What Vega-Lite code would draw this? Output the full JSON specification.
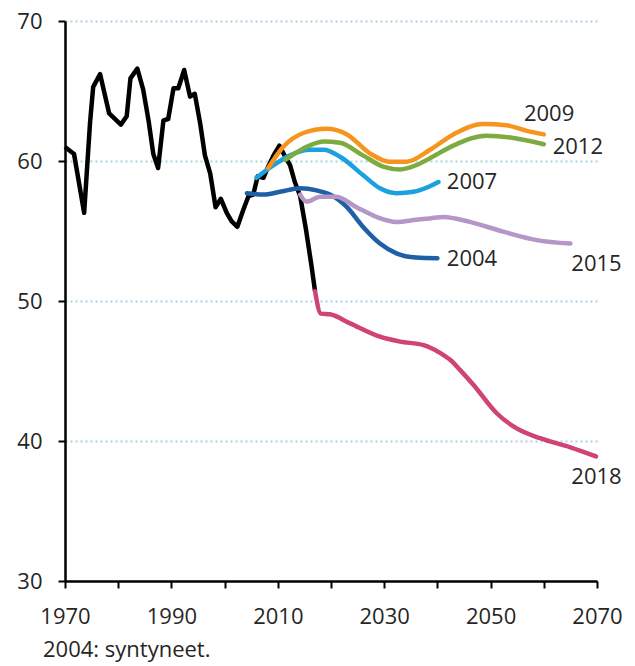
{
  "$schema": "https://vega.github.io/schema/vega-lite/v6.json",
  "autosize": "none",
  "width": 532,
  "height": 560,
  "padding": {"left": 65, "top": 21, "right": 38, "bottom": 85},
  "background": "white",
  "title": {
    "text": "2004: syntyneet.",
    "orient": "bottom",
    "anchor": "start",
    "frame": "group",
    "dx": -22,
    "offset": 13,
    "font": "Open Sans",
    "fontSize": 22,
    "fontWeight": "normal",
    "color": "#262626"
  },
  "datasets": {
    "lines": [
      {"series": "hist", "year": 1970.0, "value": 61.0},
      {"series": "hist", "year": 1971.7, "value": 60.5},
      {"series": "hist", "year": 1973.6, "value": 56.3},
      {"series": "hist", "year": 1974.7, "value": 62.7},
      {"series": "hist", "year": 1975.3, "value": 65.3},
      {"series": "hist", "year": 1976.6, "value": 66.2},
      {"series": "hist", "year": 1978.3, "value": 63.4},
      {"series": "hist", "year": 1980.5, "value": 62.6},
      {"series": "hist", "year": 1981.6, "value": 63.2},
      {"series": "hist", "year": 1982.3, "value": 65.9},
      {"series": "hist", "year": 1983.6, "value": 66.6},
      {"series": "hist", "year": 1984.7, "value": 65.1},
      {"series": "hist", "year": 1985.7, "value": 62.9},
      {"series": "hist", "year": 1986.6, "value": 60.5},
      {"series": "hist", "year": 1987.5, "value": 59.5},
      {"series": "hist", "year": 1988.5, "value": 62.9},
      {"series": "hist", "year": 1989.4, "value": 63.0},
      {"series": "hist", "year": 1990.4, "value": 65.2},
      {"series": "hist", "year": 1991.3, "value": 65.2},
      {"series": "hist", "year": 1992.4, "value": 66.5},
      {"series": "hist", "year": 1993.5, "value": 64.6},
      {"series": "hist", "year": 1994.4, "value": 64.8},
      {"series": "hist", "year": 1995.4, "value": 62.7},
      {"series": "hist", "year": 1996.3, "value": 60.4},
      {"series": "hist", "year": 1997.3, "value": 59.1},
      {"series": "hist", "year": 1998.3, "value": 56.7},
      {"series": "hist", "year": 1999.3, "value": 57.3},
      {"series": "hist", "year": 2000.4, "value": 56.3},
      {"series": "hist", "year": 2001.3, "value": 55.7},
      {"series": "hist", "year": 2002.4, "value": 55.3},
      {"series": "hist", "year": 2003.5, "value": 56.5},
      {"series": "hist", "year": 2004.5, "value": 57.5},
      {"series": "hist", "year": 2005.4, "value": 57.6},
      {"series": "hist", "year": 2006.2, "value": 58.9},
      {"series": "hist", "year": 2007.3, "value": 58.8},
      {"series": "hist", "year": 2008.2, "value": 59.6},
      {"series": "hist", "year": 2009.2, "value": 60.4},
      {"series": "hist", "year": 2010.3, "value": 61.1},
      {"series": "hist", "year": 2011.4, "value": 60.3},
      {"series": "hist", "year": 2012.3, "value": 59.7},
      {"series": "hist", "year": 2013.2, "value": 58.5},
      {"series": "hist", "year": 2014.2, "value": 57.5},
      {"series": "hist", "year": 2015.3, "value": 55.1},
      {"series": "hist", "year": 2016.3, "value": 52.6},
      {"series": "hist", "year": 2017.0, "value": 50.7},

      {"series": "2004", "year": 2004.2, "value": 57.7},
      {"series": "2004", "year": 2007.3, "value": 57.6},
      {"series": "2004", "year": 2010.4, "value": 57.8},
      {"series": "2004", "year": 2014.2, "value": 58.05},
      {"series": "2004", "year": 2017.3, "value": 57.9},
      {"series": "2004", "year": 2019.8, "value": 57.6},
      {"series": "2004", "year": 2023.0, "value": 56.7},
      {"series": "2004", "year": 2026.0, "value": 55.3},
      {"series": "2004", "year": 2029.2, "value": 54.1},
      {"series": "2004", "year": 2032.3, "value": 53.4},
      {"series": "2004", "year": 2036.0, "value": 53.1},
      {"series": "2004", "year": 2040.0, "value": 53.05},

      {"series": "2007", "year": 2006.0, "value": 58.8},
      {"series": "2007", "year": 2009.2, "value": 59.7},
      {"series": "2007", "year": 2012.3, "value": 60.4},
      {"series": "2007", "year": 2016.0, "value": 60.8},
      {"series": "2007", "year": 2018.6, "value": 60.8},
      {"series": "2007", "year": 2021.7, "value": 60.3},
      {"series": "2007", "year": 2026.0, "value": 59.0},
      {"series": "2007", "year": 2029.2, "value": 58.05},
      {"series": "2007", "year": 2032.3, "value": 57.7},
      {"series": "2007", "year": 2035.5, "value": 57.8},
      {"series": "2007", "year": 2038.6, "value": 58.2},
      {"series": "2007", "year": 2040.2, "value": 58.5},

      {"series": "2009", "year": 2008.2, "value": 59.5},
      {"series": "2009", "year": 2011.0, "value": 61.0},
      {"series": "2009", "year": 2014.8, "value": 62.0},
      {"series": "2009", "year": 2019.2, "value": 62.3},
      {"series": "2009", "year": 2023.0, "value": 61.9},
      {"series": "2009", "year": 2027.3, "value": 60.55},
      {"series": "2009", "year": 2031.0, "value": 59.95},
      {"series": "2009", "year": 2034.2, "value": 59.95},
      {"series": "2009", "year": 2038.6, "value": 60.8},
      {"series": "2009", "year": 2043.0, "value": 61.9},
      {"series": "2009", "year": 2048.6, "value": 62.65},
      {"series": "2009", "year": 2053.0, "value": 62.55},
      {"series": "2009", "year": 2056.8, "value": 62.15},
      {"series": "2009", "year": 2060.0, "value": 61.9},

      {"series": "2012", "year": 2011.4, "value": 60.07},
      {"series": "2012", "year": 2014.8, "value": 60.9},
      {"series": "2012", "year": 2018.6, "value": 61.4},
      {"series": "2012", "year": 2021.7, "value": 61.3},
      {"series": "2012", "year": 2026.0, "value": 60.4},
      {"series": "2012", "year": 2029.8, "value": 59.6},
      {"series": "2012", "year": 2033.0, "value": 59.4},
      {"series": "2012", "year": 2036.0, "value": 59.7},
      {"series": "2012", "year": 2038.6, "value": 60.2},
      {"series": "2012", "year": 2043.0, "value": 61.1},
      {"series": "2012", "year": 2049.2, "value": 61.8},
      {"series": "2012", "year": 2054.3, "value": 61.65},
      {"series": "2012", "year": 2060.0, "value": 61.2},

      {"series": "2015", "year": 2014.2, "value": 57.6},
      {"series": "2015", "year": 2015.4, "value": 57.1},
      {"series": "2015", "year": 2018.0, "value": 57.45},
      {"series": "2015", "year": 2021.0, "value": 57.45},
      {"series": "2015", "year": 2024.8, "value": 56.7},
      {"series": "2015", "year": 2028.6, "value": 56.0},
      {"series": "2015", "year": 2032.3, "value": 55.65},
      {"series": "2015", "year": 2036.0, "value": 55.8},
      {"series": "2015", "year": 2038.6, "value": 55.9},
      {"series": "2015", "year": 2041.1, "value": 56.0},
      {"series": "2015", "year": 2046.1, "value": 55.65},
      {"series": "2015", "year": 2052.4, "value": 54.95},
      {"series": "2015", "year": 2058.7, "value": 54.35},
      {"series": "2015", "year": 2065.0, "value": 54.1},

      {"series": "2018", "year": 2017.0, "value": 50.7},
      {"series": "2018", "year": 2018.1, "value": 49.1},
      {"series": "2018", "year": 2019.8, "value": 49.05},
      {"series": "2018", "year": 2023.6, "value": 48.4},
      {"series": "2018", "year": 2029.2, "value": 47.45},
      {"series": "2018", "year": 2033.0, "value": 47.1},
      {"series": "2018", "year": 2037.4, "value": 46.85},
      {"series": "2018", "year": 2040.5, "value": 46.3},
      {"series": "2018", "year": 2042.4, "value": 45.8},
      {"series": "2018", "year": 2044.2, "value": 45.1},
      {"series": "2018", "year": 2046.8, "value": 44.0},
      {"series": "2018", "year": 2051.1, "value": 42.0},
      {"series": "2018", "year": 2054.9, "value": 40.9},
      {"series": "2018", "year": 2059.3, "value": 40.2},
      {"series": "2018", "year": 2065.0, "value": 39.55},
      {"series": "2018", "year": 2069.8, "value": 38.9}
    ],
    "labels": [
      {"series": "2009", "year": 2061.0, "value": 63.36},
      {"series": "2012", "year": 2066.4, "value": 61.02},
      {"series": "2007", "year": 2046.5, "value": 58.5},
      {"series": "2004", "year": 2046.5, "value": 53.02},
      {"series": "2015", "year": 2069.9, "value": 52.66},
      {"series": "2018", "year": 2069.9, "value": 37.43}
    ]
  },
  "encoding": {
    "x": {
      "field": "year",
      "type": "quantitative",
      "scale": {"domain": [1970, 2070], "nice": false, "zero": false},
      "axis": {
        "title": null,
        "values": [1970, 1980, 1990, 2000, 2010, 2020, 2030, 2040, 2050, 2060, 2070],
        "format": "d",
        "labelExpr": "datum.value % 20 == 10 ? datum.label : ''",
        "grid": false,
        "domainColor": "black",
        "domainWidth": 2.5,
        "tickColor": "black",
        "tickWidth": 2,
        "tickSize": 7,
        "labelPadding": 18,
        "labelFont": "Open Sans",
        "labelFontSize": 22,
        "labelColor": "#262626",
        "labelFlush": false,
        "labelOverlap": false
      }
    },
    "y": {
      "field": "value",
      "type": "quantitative",
      "scale": {"domain": [30, 70], "nice": false, "zero": false},
      "axis": {
        "title": null,
        "values": [30, 40, 50, 60, 70],
        "grid": true,
        "gridColor": "#a9d2e2",
        "gridDash": [2, 3],
        "gridWidth": 2,
        "domainColor": "black",
        "domainWidth": 2.5,
        "tickColor": "black",
        "tickWidth": 2,
        "tickSize": 7,
        "labelPadding": 16,
        "labelFont": "Open Sans",
        "labelFontSize": 22,
        "labelColor": "#262626"
      }
    }
  },
  "layer": [
    {
      "data": {"name": "lines"},
      "transform": [{"filter": "datum.series == 'hist'"}],
      "mark": {"type": "line", "color": "black", "strokeWidth": 4.5, "strokeJoin": "round"}
    },
    {
      "data": {"name": "lines"},
      "transform": [{"filter": "datum.series != 'hist'"}],
      "mark": {"type": "line", "strokeWidth": 4.5, "interpolate": "monotone", "strokeCap": "round"},
      "encoding": {
        "color": {
          "field": "series",
          "type": "nominal",
          "scale": {
            "domain": ["2004", "2007", "2009", "2012", "2015", "2018"],
            "range": ["#1f5fa6", "#1ba1de", "#f7941d", "#7dab3f", "#b596c6", "#cf4376"]
          },
          "legend": null
        },
        "order": {"field": "year"}
      }
    },
    {
      "data": {"name": "labels"},
      "mark": {
        "type": "text",
        "font": "Open Sans",
        "fontSize": 22,
        "color": "#262626",
        "align": "center",
        "baseline": "middle"
      },
      "encoding": {"text": {"field": "series"}}
    }
  ],
  "config": {"view": {"stroke": null}}
}
